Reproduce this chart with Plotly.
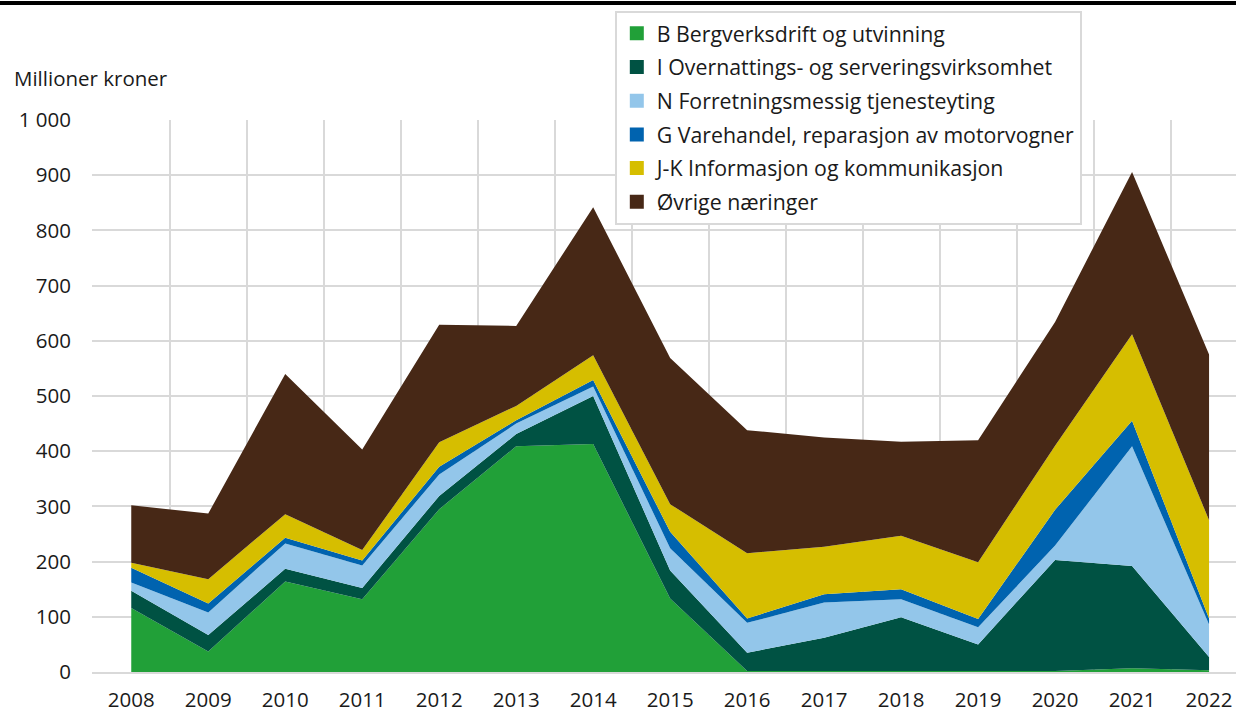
import plotly.graph_objects as go

years = list(range(2008, 2023))

bergverk = [116, 37, 164, 132, 295, 409, 413, 133, 2, 2, 2, 1, 2, 7, 3]
overnatting = [31, 30, 23, 20, 24, 22, 87, 51, 33, 60, 97, 49, 201, 185, 24]
forretning = [15, 41, 46, 41, 39, 19, 17, 40, 54, 64, 33, 31, 26, 217, 59]
varehandel = [27, 16, 10, 9, 14, 6, 12, 30, 8, 15, 18, 15, 65, 46, 11]
informasjon = [9, 44, 43, 19, 44, 26, 45, 50, 118, 86, 97, 103, 116, 157, 178]
ovrige = [104, 119, 254, 182, 213, 145, 268, 265, 223, 198, 170, 221, 224, 294, 300]

series = [
    ("B Bergverksdrift og utvinning", bergverk, "#21a038"),
    ("I Overnattings- og serveringsvirksomhet", overnatting, "#005243"),
    ("N Forretningsmessig tjenesteyting", forretning, "#93c6ea"),
    ("G Varehandel, reparasjon av motorvogner", varehandel, "#0063af"),
    ("J-K Informasjon og kommunikasjon", informasjon, "#d6be00"),
    ("Øvrige næringer", ovrige, "#472816"),
]

fig = go.Figure()
for name, vals, col in series:
    fig.add_trace(go.Scatter(
        x=years, y=vals, name=name, stackgroup="one", mode="lines",
        line=dict(width=0, color=col), fillcolor=col, showlegend=False,
    ))
# square legend keys
for name, vals, col in series:
    fig.add_trace(go.Scatter(
        x=[None], y=[None], name=name, mode="markers", legendgroup=name,
        marker=dict(symbol="square", size=14, color=col),
    ))

font = "Open Sans, Noto Sans, sans-serif"
fig.update_layout(
    width=1236, height=713,
    margin=dict(l=92, r=0, t=120, b=41),
    plot_bgcolor="white", paper_bgcolor="white",
    separators=", ",
    font=dict(family=font, size=20.5, color="#1a1a1a"),
    showlegend=True,
    legend=dict(
        x=0.457, y=1.1975, xanchor="left", yanchor="top",
        bgcolor="white", bordercolor="#d9d9d9", borderwidth=2,
        font=dict(size=21.3, color="#1a1a1a"), traceorder="grouped",
        tracegroupgap=3, itemwidth=30,
    ),
    xaxis=dict(
        range=[2007.49, 2022.35], tickvals=years, showgrid=False,
        showline=True, linecolor="#d9d9d9", linewidth=2, ticks="",
        minor=dict(tickvals=[y - 0.5 for y in years] + [2022.5], showgrid=True,
                   gridcolor="#d9d9d9", gridwidth=2),
        zeroline=False, ticklabelstandoff=8, automargin=False,
        ticklabeloverflow="allow",
    ),
    yaxis=dict(
        range=[0, 1000], dtick=100, tickformat=",d", showgrid=True,
        gridcolor="#d9d9d9", gridwidth=2, zeroline=False, ticks="",
        ticklabelstandoff=20, automargin=False,
    ),
    annotations=[dict(
        text="Millioner kroner", xref="paper", yref="paper",
        x=-0.07, y=(672 - 78) / 552, xanchor="left", yanchor="middle",
        showarrow=False, font=dict(size=20.5),
    )],
    shapes=[dict(
        type="line", xref="paper", yref="paper",
        x0=-0.09, x1=1.01, y0=(672 - 3) / 552, y1=(672 - 3) / 552,
        line=dict(color="black", width=4),
    )],
)

fig.write_html("out.html", config={"displayModeBar": False},
               post_script="document.body.style.margin='0';")
